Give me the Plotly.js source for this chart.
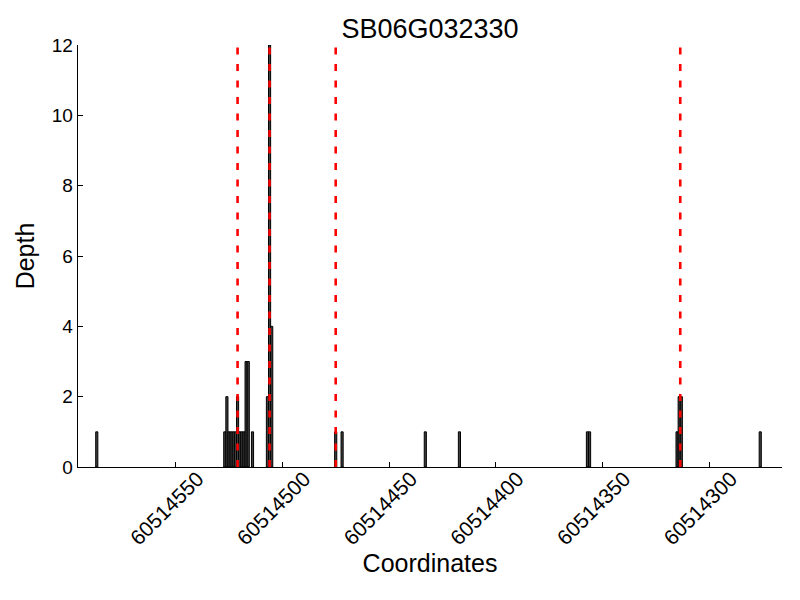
<!DOCTYPE html>
<html>
<head>
<meta charset="utf-8">
<script src="https://cdn.plot.ly/plotly-3.0.1.min.js"></script>
<style>html,body{margin:0;padding:0;background:#fff;}#chart{width:800px;height:600px;}</style>
</head>
<body>
<div id="chart"></div>
<script>
// Data
const chartTitle = "SB06G032330";
const positions = [60514587, 60514527, 60514526, 60514525, 60514524, 60514523, 60514522, 60514521,
  60514520, 60514519, 60514518, 60514517, 60514516, 60514514, 60514507, 60514506, 60514505,
  60514475, 60514472, 60514433, 60514417, 60514357, 60514356, 60514315, 60514314, 60514313, 60514276];
const depths = [1, 1, 2, 1, 1, 1, 1, 2,
  1, 1, 1, 3, 3, 1, 2, 12, 4,
  1, 1, 1, 1, 1, 1, 1, 2, 2, 1];
const markerPositions = [60514521, 60514506, 60514475, 60514313.5];
const xTickVals = [60514550, 60514500, 60514450, 60514400, 60514350, 60514300];
const yTickVals = [0, 2, 4, 6, 8, 10, 12];

const font = "Liberation Sans, Arial, sans-serif";

const trace = {
  type: "bar",
  x: positions,
  y: depths,
  width: 1,
  marker: {color: "#404040", line: {color: "#000000", width: 1}},
  hoverinfo: "x+y"
};

const shapes = markerPositions.map(p => ({
  type: "line", xref: "x", yref: "y",
  x0: p, x1: p, y0: 0, y1: 12,
  line: {color: "#ff0000", width: 2.6, dash: "7px,9.5px"},
  layer: "above"
}));

const layout = {
  width: 800, height: 600,
  margin: {l: 78, r: 18, t: 45, b: 133},
  paper_bgcolor: "#ffffff", plot_bgcolor: "#ffffff",
  showlegend: false,
  font: {family: font, color: "#000000", size: 19},
  title: {text: chartTitle, font: {family: font, size: 27, color: "#000"}, x: 0.5375, xanchor: "center", y: 0.953, yanchor: "middle"},
  bargap: 0,
  xaxis: {
    range: [60514595.8, 60514265.8],
    autorange: false,
    tickvals: xTickVals,
    ticktext: xTickVals.map(String),
    tickangle: -45,
    ticklabelshift: -22,
    ticklabelstandoff: -10,
    ticks: "inside", ticklen: 5, tickwidth: 1, tickcolor: "#000",
    showline: true, linecolor: "#000", linewidth: 1.3,
    showgrid: false, zeroline: false,
    tickfont: {family: font, size: 21},
    title: {text: "Coordinates", font: {family: font, size: 25}, standoff: 6}
  },
  yaxis: {
    range: [0, 12],
    autorange: false,
    tickvals: yTickVals,
    ticks: "inside", ticklen: 5, tickwidth: 1, tickcolor: "#000",
    showline: true, linecolor: "#000", linewidth: 1.3,
    showgrid: false, zeroline: false,
    tickfont: {family: font, size: 19},
    title: {text: "Depth", font: {family: font, size: 25}, standoff: 10}
  },
  shapes: shapes
};

Plotly.newPlot("chart", [trace], layout, {displayModeBar: false, staticPlot: true});
</script>
</body>
</html>
